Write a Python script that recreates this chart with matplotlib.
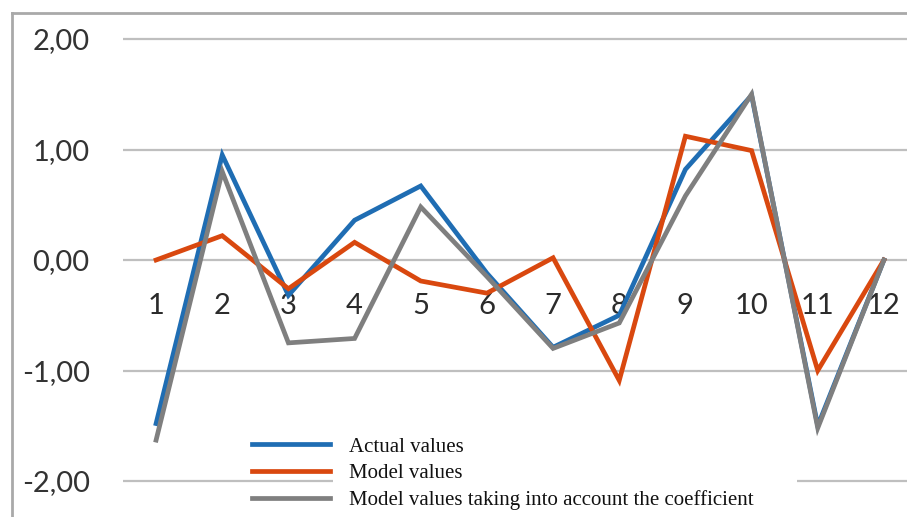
import matplotlib.pyplot as plt
import numpy as np
from matplotlib.lines import Line2D
from matplotlib.patches import Rectangle

# data
periods = [1, 2, 3, 4, 5, 6, 7, 8, 9, 10, 11, 12]
actual = [-1.48, 0.95, -0.32, 0.36, 0.67, -0.12, -0.79, -0.50, 0.82, 1.49, -1.50, 0.0]
model = [0.0, 0.22, -0.26, 0.16, -0.19, -0.30, 0.02, -1.09, 1.12, 0.99, -1.00, 0.0]
model_coef = [-1.63, 0.80, -0.75, -0.71, 0.48, -0.15, -0.80, -0.57, 0.58, 1.50, -1.52, 0.0]
yticks = [-2, -1, 0, 1, 2]
labels = ["Actual values", "Model values",
          "Model values taking into account the coefficient"]

W, H = 907, 517
fig = plt.figure(figsize=(W / 100, H / 100), dpi=100)
fig.patch.set_facecolor("white")

# axes placed in pixel terms: x=0.5 at px 123, x=12.5 at px 917 (past the edge)
# y=2 at px 39, y=-2 at px 481
ax = fig.add_axes([123 / W, 0, (917 - 123) / W, 1])
ax.set_xlim(0.5, 12.5)
ax.set_ylim(-2 - 36 / 110.5, 2 + 39 / 110.5)
ax.set_facecolor("none")

for s in ax.spines.values():
    s.set_visible(False)

ax.set_yticks(yticks)
ax.set_yticklabels([f"{v:.2f}".replace(".", ",") for v in yticks])
ax.tick_params(axis="y", length=0, pad=24, labelsize=21, labelcolor="#333333")
for t in ax.get_yticklabels():
    t.set_fontfamily("Lato")
ax.set_xticks([])

for v in yticks:
    ax.axhline(v, color="#bfbfbf", lw=1.6, zorder=1)

blue = "#1f6db3"
orange = "#d9480f"
grey = "#7f7f7f"
lw = 3.4
ax.plot(periods, actual, color=blue, lw=lw, zorder=3, solid_joinstyle="miter")
ax.plot(periods, model, color=orange, lw=lw, zorder=4, solid_joinstyle="miter")
ax.plot(periods, model_coef, color=grey, lw=lw, zorder=5, solid_joinstyle="miter")

# category labels sit just under the zero line, like Excel does
for p in periods:
    ax.annotate(str(p), (p, 0), xytext=(0, -39), textcoords="offset points",
                ha="center", va="baseline", fontsize=21, color="#2b2b2b",
                fontfamily="Lato", zorder=2)

# white patch behind legend text (covers the -2 gridline there)
fig.patches.append(Rectangle((333 / W, 0), (797 - 333) / W, 1 - 428 / H,
                             transform=fig.transFigure, facecolor="white",
                             edgecolor="none", zorder=2))

handles = [Line2D([], [], color=c, lw=lw) for c in (blue, orange, grey)]
leg = fig.legend(handles, labels, loc="center left",
                 bbox_to_anchor=(252 / W, 1 - 473.5 / H), bbox_transform=fig.transFigure,
                 frameon=False, borderpad=0, borderaxespad=0,
                 handlelength=3.75, handletextpad=0.9, labelspacing=0.33,
                 prop={"family": "Liberation Serif", "size": 15})
leg.set_zorder(6)
for t in leg.get_texts():
    t.set_color("#111111")

# outer chart border (only top and left edges visible in the crop)
fig.add_artist(Line2D([12 / W, 12 / W], [0, 1 - 13 / H], transform=fig.transFigure,
                      color="#a9a9a9", lw=2))
fig.add_artist(Line2D([12 / W, 1], [1 - 13 / H, 1 - 13 / H], transform=fig.transFigure,
                      color="#a9a9a9", lw=2))

plt.savefig("out.png", dpi=100)
